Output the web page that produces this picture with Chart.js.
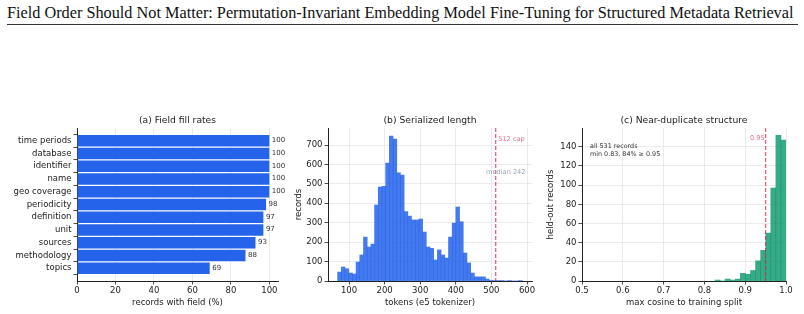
<!DOCTYPE html>
<html>
<head>
<meta charset="utf-8">
<script src="https://cdn.jsdelivr.net/npm/chart.js@4.4.1/dist/chart.umd.min.js"></script>
<style>
    body { margin: 0; background: #fff; width: 804px; height: 314px; overflow: hidden; position: relative; }
    #pageTitle { position: absolute; left: 7px; top: 5px; font-family: 'Liberation Serif', serif; font-size: 16.25px; line-height: 16px; color: #111; white-space: nowrap; }
    #rule { position: absolute; left: 7px; top: 24px; width: 791px; height: 1px; background: #333; }
    .panel { position: absolute; top: 105px; height: 209px; }
</style>
</head>
<body>
<div id="pageTitle">Field Order Should Not Matter: Permutation-Invariant Embedding Model Fine-Tuning for Structured Metadata Retrieval</div>
<div id="rule"></div>
<div class="panel" style="left:0;width:290px"><canvas id="fillChart"></canvas></div>
<div class="panel" style="left:285px;width:255px"><canvas id="lengthChart"></canvas></div>
<div class="panel" style="left:540px;width:264px"><canvas id="dupChart"></canvas></div>

<script>
// --- data ---
const fillFields = ['time periods', 'database', 'identifier', 'name', 'geo coverage', 'periodicity',
    'definition', 'unit', 'sources', 'methodology', 'topics'];
const fillPct = [100, 100, 100, 100, 100, 98.3, 96.9, 96.9, 92.8, 87.6, 69];

// token length histogram (50 bins)
const lenBinStart = 68;
const lenBinWidth = 10.38;
const lenCounts = [46, 72, 63, 41, 36, 98, 134, 226, 175, 190,
    391, 484, 487, 607, 746, 731, 557, 545, 357, 334,
    314, 314, 319, 252, 175, 168, 108, 160, 134, 118,
    226, 298, 381, 305, 144, 93, 41, 21, 21, 21,
    10, 3, 2, 1, 1, 0, 1, 0, 0, 1];
const lenCap = 512;
const lenMedian = 242;

// max cosine histogram (14 bins)
const cosBinStart = 0.826;
const cosBinWidth = 0.01243;
const cosCounts = [1, 0, 2, 1, 2, 8, 7, 11, 21, 32, 50, 97, 152, 147];
const cosThreshold = 0.95;

const FONT = "'DejaVu Sans', sans-serif";
const INK = '#222';
const GRID = '#e6e6e6';
const RED = 'rgba(225, 29, 72, 0.7)';

// titles, dashed lines and notes
const decorPlugin = {
    id: 'decor',
    afterDatasetsDraw(chart, args, opts) {
        const { ctx, chartArea: a, scales } = chart;
        ctx.save();
        ctx.font = '9.2px ' + FONT;
        ctx.fillStyle = INK;
        ctx.textAlign = 'center';
        ctx.textBaseline = 'middle';
        ctx.fillText(opts.title, (a.left + a.right) / 2, a.top - 7.5);

        (opts.lines || []).forEach(v => {
            const px = scales.x.getPixelForValue(v);
            ctx.beginPath();
            ctx.setLineDash([4, 2]);
            ctx.strokeStyle = RED;
            ctx.lineWidth = 1.3;
            ctx.moveTo(px, a.top);
            ctx.lineTo(px, a.bottom);
            ctx.stroke();
        });
        ctx.setLineDash([]);

        (opts.notes || []).forEach(n => {
            ctx.font = (n.size || 6.6) + 'px ' + FONT;
            ctx.fillStyle = n.color;
            ctx.textAlign = n.align || 'left';
            const x = n.atValue !== undefined ? scales.x.getPixelForValue(n.atValue) + n.dx : a.left + n.dx;
            ctx.fillText(n.text, x, a.top + n.dy);
        });

        // value labels at bar ends
        if (opts.barLabels) {
            ctx.font = '7px ' + FONT;
            ctx.fillStyle = '#333';
            ctx.textAlign = 'left';
            chart.getDatasetMeta(0).data.forEach((bar, i) => {
                ctx.fillText(String(Math.round(fillPct[i])), bar.x + 2.5, bar.y - 0.5);
            });
        }
        ctx.restore();
    }
};

function fixWidth(w) { return scale => { scale.width = w; }; }
function fixHeight(h) { return scale => { scale.height = h; }; }

function axisBase() {
    return {
        border: { display: true, color: INK, width: 1 },
        grid: { color: GRID, lineWidth: 0.8, tickLength: 3.5, tickColor: INK, tickWidth: 0.8 },
        ticks: { color: INK, font: { family: FONT, size: 8.5 }, padding: 1.5, includeBounds: false, maxRotation: 0, autoSkip: false }
    };
}

function xTitle(text) {
    return { display: true, text: text, color: INK, font: { family: FONT, size: 8.5 }, padding: { top: 0, bottom: 6 } };
}

Chart.defaults.animation = false;

// (a) field fill rates
(() => {
    const x = axisBase();
    const y = axisBase();
    new Chart(document.getElementById('fillChart'), {
        type: 'bar',
        data: {
            datasets: [{
                data: fillFields.map((f, i) => ({ x: fillPct[i], y: i })),
                backgroundColor: '#2563eb',
                borderWidth: 0,
                barPercentage: 0.9,
                categoryPercentage: 1
            }]
        },
        options: {
            indexAxis: 'y',
            responsive: true,
            maintainAspectRatio: false,
            layout: { padding: { left: 0, right: 12, top: 23, bottom: 0 } },
            plugins: {
                legend: { display: false },
                tooltip: { enabled: false },
                decor: { title: '(a) Field fill rates', barLabels: true }
            },
            scales: {
                x: Object.assign(x, {
                    type: 'linear', min: 0, max: 104.5, offset: false,
                    ticks: Object.assign(x.ticks, { stepSize: 20 }),
                    title: xTitle('records with field (%)'),
                    afterFit: fixHeight(33)
                }),
                y: Object.assign(y, {
                    type: 'linear', min: -1, max: 11, reverse: true, offset: false,
                    grid: Object.assign(y.grid, { drawOnChartArea: false }),
                    ticks: Object.assign(y.ticks, {
                        stepSize: 1, padding: 2,
                        callback: v => (Number.isInteger(v) && v >= 0 && v < fillFields.length) ? fillFields[v] : null
                    }),
                    afterFit: fixWidth(77)
                })
            }
        },
        plugins: [decorPlugin]
    });
})();

// (b) serialized length
(() => {
    const x = axisBase();
    const y = axisBase();
    new Chart(document.getElementById('lengthChart'), {
        type: 'bar',
        data: {
            datasets: [{
                data: lenCounts.map((c, i) => ({ x: lenBinStart + (i + 0.5) * lenBinWidth, y: c })),
                backgroundColor: 'rgba(37, 99, 235, 0.85)',
                borderWidth: 0,
                barPercentage: 1,
                categoryPercentage: 1
            }]
        },
        options: {
            responsive: true,
            maintainAspectRatio: false,
            layout: { padding: { left: 0, right: 8, top: 23, bottom: 0 } },
            plugins: {
                legend: { display: false },
                tooltip: { enabled: false },
                decor: {
                    title: '(b) Serialized length',
                    lines: [lenCap],
                    notes: [
                        { text: lenCap + ' cap', color: 'rgba(225, 29, 72, 0.65)', atValue: lenCap, dx: 2.5, dy: 11 },
                        { text: 'median ' + lenMedian, color: '#94a3b8', align: 'right', dx: 197.5, dy: 44.7 }
                    ]
                }
            },
            scales: {
                x: Object.assign(x, {
                    type: 'linear', min: 41, max: 614, offset: false,
                    grid: Object.assign(x.grid, { offset: false }),
                    ticks: Object.assign(x.ticks, { stepSize: 100 }),
                    title: xTitle('tokens (e5 tokenizer)'),
                    afterFit: fixHeight(33)
                }),
                y: Object.assign(y, {
                    type: 'linear', min: 0, max: 787.5,
                    ticks: Object.assign(y.ticks, { stepSize: 100, padding: 2 }),
                    title: { display: true, text: 'records', color: INK, font: { family: FONT, size: 8.5 }, padding: { top: 9, bottom: 0 } },
                    afterFit: fixWidth(43)
                })
            }
        },
        plugins: [decorPlugin]
    });
})();

// (c) near-duplicate structure
(() => {
    const x = axisBase();
    const y = axisBase();
    new Chart(document.getElementById('dupChart'), {
        type: 'bar',
        data: {
            datasets: [{
                data: cosCounts.map((c, i) => ({ x: cosBinStart + (i + 0.5) * cosBinWidth, y: c })),
                backgroundColor: 'rgba(5, 150, 105, 0.8)',
                borderWidth: 0,
                barPercentage: 1,
                categoryPercentage: 1
            }]
        },
        options: {
            responsive: true,
            maintainAspectRatio: false,
            layout: { padding: { left: 0, right: 18, top: 23, bottom: 0 } },
            plugins: {
                legend: { display: false },
                tooltip: { enabled: false },
                decor: {
                    title: '(c) Near-duplicate structure',
                    lines: [cosThreshold],
                    notes: [
                        { text: String(cosThreshold), color: 'rgba(225, 29, 72, 0.65)', align: 'right', atValue: cosThreshold, dx: -1, dy: 10.3 },
                        { text: 'all 531 records', color: '#333', dx: 8, dy: 18.7, size: 6.4 },
                        { text: 'min 0.83, 84% \u2265 0.95', color: '#333', dx: 8, dy: 26.3, size: 6.4 }
                    ]
                }
            },
            scales: {
                x: Object.assign(x, {
                    type: 'linear', min: 0.5, max: 1.0, offset: false,
                    grid: Object.assign(x.grid, { offset: false }),
                    ticks: Object.assign(x.ticks, { stepSize: 0.1, callback: v => v.toFixed(1) }),
                    title: xTitle('max cosine to training split'),
                    afterFit: fixHeight(33)
                }),
                y: Object.assign(y, {
                    type: 'linear', min: 0, max: 159.6,
                    ticks: Object.assign(y.ticks, { stepSize: 20, padding: 2 }),
                    title: { display: true, text: 'held-out records', color: INK, font: { family: FONT, size: 8.5 }, padding: { top: 6, bottom: 0 } },
                    afterFit: fixWidth(42)
                })
            }
        },
        plugins: [decorPlugin]
    });
})();
</script>
</body>
</html>
